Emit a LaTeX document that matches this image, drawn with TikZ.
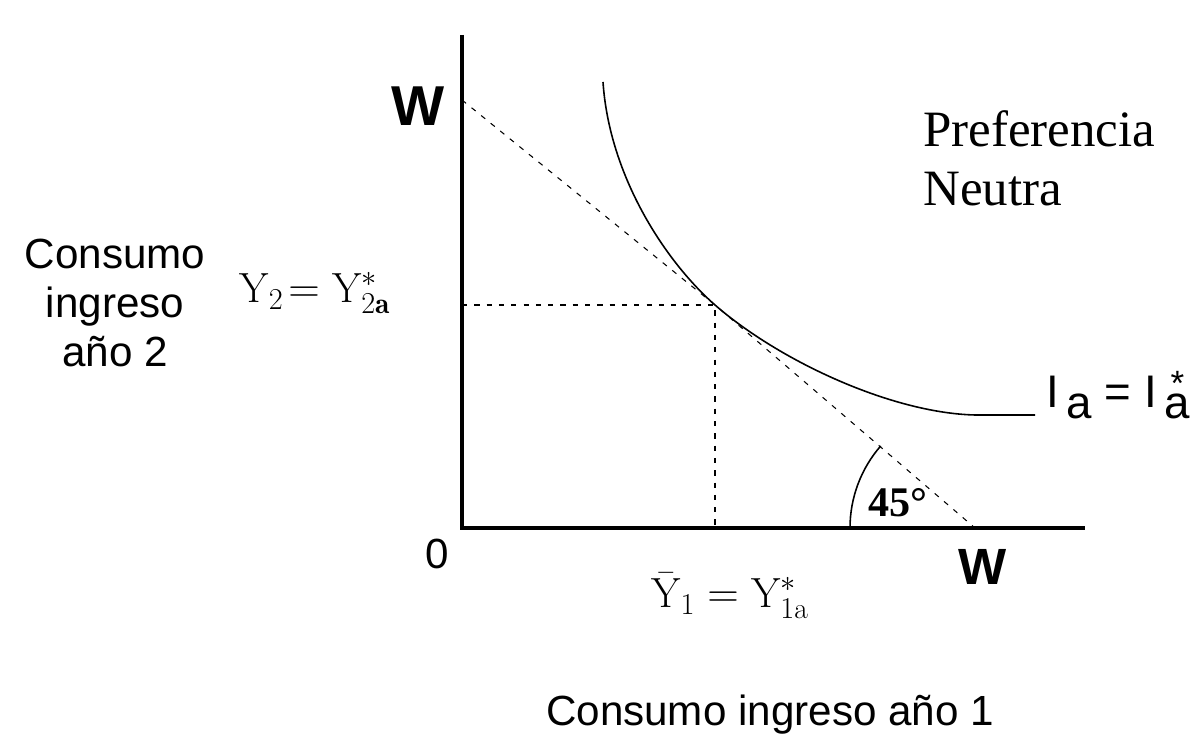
\documentclass[tikz,border=0pt]{standalone}
\usepackage{amsmath}
\usepackage{fontspec}
\usepackage{tikz}
\newfontfamily\arialfont{Liberation Sans}
\newfontfamily\timesfont{Liberation Serif}

\begin{document}
\begin{tikzpicture}[
  axis/.style={line width=2.6pt},
  guide/.style={dash pattern=on 3pt off 4pt, line width=0.6pt},
  curvestyle/.style={line width=0.9pt},
  sanslbl/.style={font=\arialfont\fontsize{24}{28}\selectfont, align=center},
  bigw/.style={font=\arialfont\bfseries\fontsize{32}{36}\selectfont},
  mathlbl/.style={font=\fontsize{24}{28}\selectfont}
]
\useasboundingbox (-9.24,-4.34) rectangle (14.84,10.56);

%axes
\coordinate (O) at (0,0);
\coordinate (ytop) at (0,9.86);
\coordinate (xend) at (12.46,0);
\draw[axis] (ytop)--(O)--(xend);

%budget line and tangency
\coordinate (Wy) at (0,8.56);
\coordinate (Wx) at (10.26,0);
\coordinate (T) at (5.06,4.46);
\draw[guide] (Wy)--(T)--(Wx);
\draw[guide] (O |- T)--(T)--(T |- O);

%indifference curve
\coordinate (c0) at (2.82,8.92);
\coordinate (c1) at (10.26,2.26);
\coordinate (c2) at (11.46,2.26);
\draw[curvestyle] (c0) .. controls (2.95,7.0) and (4.1,5.3) .. (T)
  .. controls (6.36,3.33) and (8.6,2.3) .. (c1)--(c2);

%angle
\draw[line width=0.9pt] (Wx) ++(180:2.5) arc (180:139:2.5);
\node[font=\timesfont\bfseries\fontsize{24}{28}\selectfont] (ang) at (8.72,0.5) {45°};

%labels
\node[bigw] (lWy) at (-0.88,8.44) {W};
\node[bigw, font=\arialfont\bfseries\fontsize{29}{34}\selectfont] (lWx) at (10.42,-0.78) {W};
\node[sanslbl] (l0) at (-0.5,-0.52) {0};
\node[sanslbl] (ylab) at (-6.94,4.5) {Consumo\\ingreso\\año 2};
\node[sanslbl] (xlab) at (6.16,-3.74) {Consumo ingreso año 1};
\node[font=\timesfont\fontsize{29}{34}\selectfont, align=left, anchor=north west] (pref) at (9.1,8.48) {Preferencia\\Neutra};
\node[mathlbl] (ly2) at (-2.94,4.7) {$\mathrm{Y}_2\!=\mathrm{Y}^{*}_{2\mathbf{a}}$};
\node[mathlbl] (ly1) at (5.36,-1.36) {$\bar{\mathrm{Y}}_1=\mathrm{Y}^{*}_{1\text{a}}$};
\node[font=\arialfont\fontsize{26}{30}\selectfont] (lia) at (13.12,2.66)
  {I\,\raisebox{-0.45ex}{a} = I\,\raisebox{-0.45ex}{\makebox[0pt][l]{\kern3.5pt\raisebox{13pt}{\fontsize{20}{20}\selectfont *}}a}};

\end{tikzpicture}
\end{document}
